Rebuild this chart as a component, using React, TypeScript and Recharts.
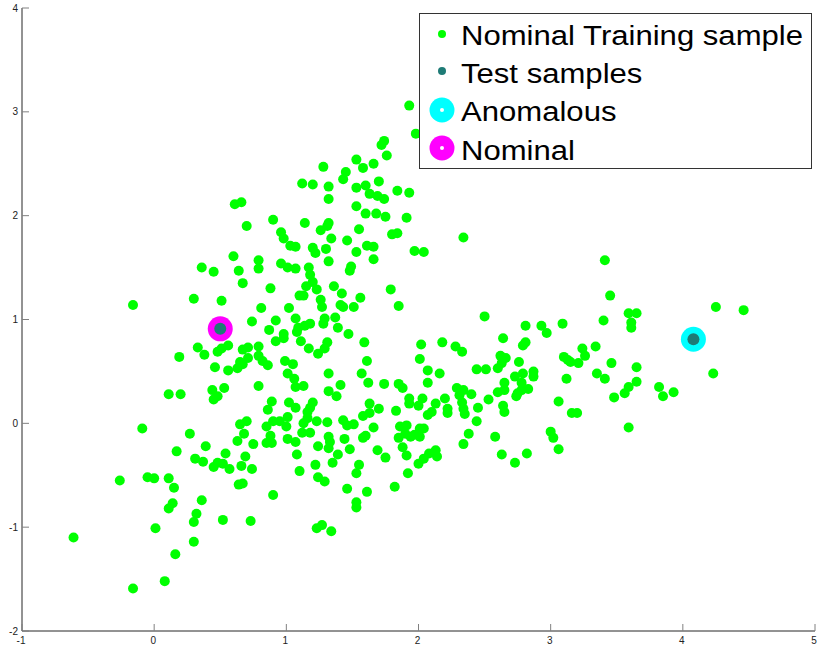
import React from 'react';
import { ScatterChart, Scatter, XAxis, YAxis, Legend } from 'recharts';

const xTicks = [-1, 0, 1, 2, 3, 4, 5];
const yTicks = [-2, -1, 0, 1, 2, 3, 4];
const legendLabels = ['Nominal Training sample', 'Test samples', 'Anomalous', 'Nominal'];

const trainingPoints: [number, number][] = [
  [0.61, 2.11], [0.66, 2.13], [0.70, 1.90], [0.90, 1.96], [0.96, 1.84], [0.98, 1.78], [1.03, 1.71],
  [0.60, 1.61], [0.79, 1.57], [0.79, 1.49], [0.36, 1.50], [0.45, 1.46], [0.64, 1.47], [0.96, 1.54],
  [1.01, 1.50], [1.07, 1.49], [0.67, 1.35], [0.88, 1.30], [0.30, 1.20], [0.51, 1.18], [-0.16, 1.14],
  [0.81, 1.11], [1.02, 1.11], [0.74, 0.98], [0.92, 0.99], [0.87, 0.90], [0.98, 0.86], [0.98, 0.82],
  [0.33, 0.73], [0.48, 0.69], [0.51, 0.72], [0.56, 0.75], [0.67, 0.71], [0.71, 0.73], [0.79, 0.74],
  [0.92, 0.79], [1.93, 3.06], [1.98, 2.79], [1.74, 2.72], [1.72, 2.68], [1.76, 2.58], [1.53, 2.54],
  [1.66, 2.50], [1.58, 2.46], [1.28, 2.47], [1.45, 2.42], [1.43, 2.35], [1.12, 2.31], [1.20, 2.30],
  [1.32, 2.28], [1.53, 2.27], [1.60, 2.29], [1.70, 2.33], [1.63, 2.21], [1.69, 2.19], [1.74, 2.16],
  [1.84, 2.24], [1.93, 2.22], [1.32, 2.16], [1.53, 2.09], [1.60, 2.02], [1.68, 2.02], [1.75, 1.99],
  [1.91, 1.98], [1.14, 1.93], [1.32, 1.93], [1.31, 1.90], [1.26, 1.86], [1.55, 1.87], [1.80, 1.82],
  [1.84, 1.83], [2.34, 1.79], [1.34, 1.78], [1.46, 1.76], [1.07, 1.70], [1.20, 1.69], [1.22, 1.64],
  [1.30, 1.68], [1.61, 1.71], [1.66, 1.70], [1.53, 1.65], [1.97, 1.66], [2.04, 1.65], [1.32, 1.56],
  [1.66, 1.58], [1.17, 1.50], [1.49, 1.51], [1.48, 1.47], [1.18, 1.43], [1.20, 1.36], [1.23, 1.29],
  [1.15, 1.32], [1.13, 1.23], [1.10, 1.23], [1.36, 1.32], [1.42, 1.25], [1.79, 1.29], [1.26, 1.19],
  [1.27, 1.12], [1.56, 1.21], [1.41, 1.14], [1.43, 1.12], [1.51, 1.12], [1.85, 1.13], [1.07, 1.01],
  [1.37, 1.02], [1.29, 1.01], [1.28, 0.96], [1.18, 0.96], [1.14, 0.94], [1.09, 0.92], [1.08, 0.88],
  [1.39, 0.92], [1.47, 0.86], [2.50, 1.03], [2.64, 0.82], [1.11, 0.79], [1.31, 0.78], [1.59, 0.78],
  [2.02, 0.76], [2.18, 0.78], [2.28, 0.74], [1.29, 0.72], [2.33, 0.69], [3.41, 1.57], [3.45, 1.23],
  [3.59, 1.06], [3.65, 1.06], [3.61, 0.97], [3.61, 0.92], [3.40, 0.99], [4.25, 1.12], [4.46, 1.09],
  [4.23, 0.48], [2.81, 0.94], [2.93, 0.94], [2.97, 0.87], [3.09, 0.96], [2.81, 0.78], [2.79, 0.75],
  [3.34, 0.74], [3.24, 0.72], [3.26, 0.65], [3.10, 0.64], [3.13, 0.61], [3.15, 0.59], [3.21, 0.58],
  [2.62, 0.65], [2.66, 0.63], [2.63, 0.58], [2.60, 0.53], [2.76, 0.59], [3.46, 0.58], [3.65, 0.54],
  [2.87, 0.50], [2.87, 0.45], [2.79, 0.48], [2.73, 0.45], [3.35, 0.48], [3.41, 0.43], [3.12, 0.43],
  [2.65, 0.39], [2.65, 0.32], [2.60, 0.30], [2.78, 0.39], [2.78, 0.32], [2.83, 0.33], [2.75, 0.29],
  [2.74, 0.26], [3.65, 0.40], [3.59, 0.35], [3.56, 0.29], [3.82, 0.35], [3.85, 0.26], [3.93, 0.30],
  [3.48, 0.25], [3.06, 0.21], [2.64, 0.17], [2.65, 0.11], [3.16, 0.10], [3.20, 0.10], [3.00, -0.08],
  [3.02, -0.14], [3.59, -0.04], [3.06, -0.25], [2.82, -0.29], [2.73, -0.38], [2.63, -0.30],
  [0.38, 0.66], [0.19, 0.64], [0.71, 0.63], [0.79, 0.65], [0.82, 0.60], [0.86, 0.56], [0.65, 0.59],
  [0.67, 0.57], [0.63, 0.53], [0.56, 0.51], [0.46, 0.54], [0.99, 0.60], [1.01, 0.48], [0.79, 0.36],
  [0.44, 0.32], [0.53, 0.34], [0.48, 0.26], [0.45, 0.23], [0.11, 0.28], [0.20, 0.28], [0.89, 0.21],
  [0.86, 0.13], [1.02, 0.20], [-0.09, -0.05], [0.27, -0.10], [0.65, -0.01], [0.70, 0.02], [0.68, -0.10],
  [0.63, -0.17], [0.75, -0.20], [0.85, -0.03], [0.90, 0.02], [0.95, 0.02], [1.01, 0.06], [1.00, -0.03],
  [0.88, -0.12], [0.85, -0.19], [0.89, -0.19], [1.01, -0.15], [0.39, -0.22], [0.17, -0.27], [0.54, -0.29],
  [0.31, -0.34], [0.37, -0.37], [0.45, -0.42], [0.48, -0.38], [0.52, -0.39], [0.57, -0.44], [0.69, -0.32],
  [0.66, -0.41], [0.74, -0.44], [-0.26, -0.55], [-0.05, -0.52], [0.00, -0.53], [0.11, -0.53], [0.15, -0.62],
  [0.64, -0.59], [0.67, -0.58], [0.90, -0.69], [0.36, -0.74], [0.14, -0.77], [0.11, -0.82], [0.32, -0.87],
  [0.30, -0.95], [0.52, -0.93], [0.73, -0.94], [0.01, -1.01], [-0.61, -1.10], [0.30, -1.14], [0.16, -1.26],
  [0.08, -1.52], [-0.16, -1.59], [1.17, 0.72], [1.24, 0.67], [1.61, 0.60], [2.01, 0.62], [2.07, 0.51],
  [2.16, 0.48], [2.07, 0.39], [2.44, 0.52], [2.51, 0.52], [1.05, 0.57], [1.06, 0.43], [1.07, 0.35],
  [1.13, 0.36], [1.32, 0.48], [1.57, 0.48], [1.62, 0.39], [1.32, 0.31], [1.38, 0.26], [1.41, 0.37],
  [1.74, 0.38], [1.85, 0.38], [1.88, 0.34], [2.29, 0.34], [2.34, 0.32], [2.40, 0.28], [2.31, 0.27],
  [2.33, 0.20], [2.34, 0.14], [2.35, 0.09], [2.53, 0.23], [2.45, 0.15], [2.44, 0.02], [2.38, -0.10],
  [2.34, -0.20], [2.58, -0.13], [2.20, 0.24], [2.22, 0.14], [2.22, 0.10], [2.13, 0.19], [2.10, 0.11],
  [2.07, 0.08], [1.93, 0.24], [1.93, 0.19], [2.00, 0.17], [2.03, 0.24], [1.83, 0.12], [1.63, 0.19],
  [1.63, 0.10], [1.58, 0.07], [1.70, 0.14], [1.66, -0.04], [1.07, 0.15], [1.20, 0.20], [1.18, 0.15],
  [1.16, 0.11], [1.16, 0.05], [1.13, 0.00], [1.23, 0.02], [1.31, 0.01], [1.43, 0.03], [1.46, -0.02],
  [1.51, -0.01], [1.12, -0.09], [1.18, -0.09], [1.07, -0.18], [1.32, -0.13], [1.33, -0.18], [1.32, -0.24],
  [1.44, -0.15], [1.60, -0.12], [1.58, -0.14], [1.24, -0.22], [1.48, -0.25], [1.39, -0.30], [1.35, -0.38],
  [1.08, -0.30], [1.69, -0.26], [1.75, -0.33], [1.86, -0.03], [1.91, -0.02], [1.85, -0.14], [1.90, -0.10],
  [1.94, -0.13], [1.97, -0.11], [2.01, -0.05], [2.04, -0.05], [2.01, -0.13], [1.88, -0.23], [1.91, -0.31],
  [2.00, -0.39], [2.04, -0.34], [2.08, -0.29], [2.13, -0.26], [2.14, -0.32], [1.92, -0.48], [1.82, -0.61],
  [1.22, -0.40], [1.10, -0.46], [1.55, -0.40], [1.53, -0.48], [1.24, -0.52], [1.29, -0.56], [1.46, -0.63],
  [1.61, -0.66], [1.53, -0.76], [1.53, -0.81], [1.23, -1.01], [1.27, -0.98], [1.34, -1.04],
];

const testPoints: [number, number][] = [[0.5, 0.91], [4.08, 0.81]];
const anomalousPoints: [number, number][] = [[4.08, 0.81]];
const nominalPoints: [number, number][] = [[0.5, 0.91]];

const toData = (pts: [number, number][]) => pts.map(([x, y]) => ({ x, y }));

const GREEN = '#00ff00';
const TEAL = '#1e7b76';
const CYAN = '#00ffff';
const MAGENTA = '#ff00ff';
const FONT = '"Liberation Sans", Arial, Helvetica, sans-serif';

const makeDot = (r: number, fill: string) => (props: any) =>
  <circle cx={props.cx} cy={props.cy} r={r} fill={fill} />;

const YTick = (props: any) => {
  const { x, y, payload } = props;
  return (
    <g>
      <line x1={x} y1={y} x2={x + 7} y2={y} stroke="#808080" strokeWidth={1} />
      <text x={x - 4} y={y} textAnchor="end" dominantBaseline="central" fontSize={10} fontFamily={FONT} fill="#222">
        {payload.value}
      </text>
    </g>
  );
};

const XTick = (props: any) => {
  const { x, y, payload } = props;
  return (
    <g>
      <line x1={x} y1={y} x2={x} y2={y - 7} stroke="#808080" strokeWidth={1} />
      <text x={x - 1} y={y + 9} textAnchor="middle" dominantBaseline="central" fontSize={10} fontFamily={FONT} fill="#222">
        {payload.value}
      </text>
    </g>
  );
};

const LegendBox = () => {
  const rows = [
    { cy: 21, base: 32, kind: 'dot', color: GREEN },
    { cy: 58, base: 70, kind: 'dot', color: TEAL },
    { cy: 97, base: 108, kind: 'ring', color: CYAN },
    { cy: 135, base: 147, kind: 'ring', color: MAGENTA },
  ];
  return (
    <svg width={394} height={157} style={{ display: 'block' }}>
      <rect x={0.5} y={0.5} width={392} height={155} fill="#ffffff" stroke="#333333" strokeWidth={1} />
      {rows.map((r, i) => (
        <g key={i}>
          {r.kind === 'dot' ? (
            <circle cx={23} cy={r.cy} r={4} fill={r.color} />
          ) : (
            <g>
              <circle cx={23} cy={r.cy} r={12.5} fill={r.color} />
              <circle cx={23} cy={r.cy} r={2} fill="#ffffff" />
            </g>
          )}
          <text transform={`translate(42 ${r.base}) scale(1.11 1)`} x={0} y={0} fontSize={28} fontFamily={FONT} fill="#000">
            {legendLabels[i]}
          </text>
        </g>
      ))}
    </svg>
  );
};

export default function App() {
  return (
    <div style={{ position: 'absolute', left: 0, top: 0, width: 817, height: 650, background: '#fff' }}>
      <ScatterChart width={817} height={650} margin={{ top: 8, right: 2, bottom: 0, left: 0 }}>
        <XAxis
          type="number"
          dataKey="x"
          domain={[-1, 5]}
          ticks={xTicks}
          interval={0}
          height={19}
          tickSize={0}
          tickMargin={0}
          tickLine={false}
          axisLine={{ stroke: '#262626', strokeWidth: 1 }}
          tick={<XTick />}
          allowDataOverflow
        />
        <YAxis
          type="number"
          dataKey="y"
          domain={[-2, 4]}
          ticks={yTicks}
          interval={0}
          width={22}
          tickSize={0}
          tickMargin={0}
          tickLine={false}
          axisLine={{ stroke: '#262626', strokeWidth: 1 }}
          tick={<YTick />}
          allowDataOverflow
        />
        <Legend
          layout="horizontal"
          verticalAlign="middle"
          align="center"
          wrapperStyle={{ position: 'absolute', left: 419, top: 13, width: 394, height: 157 }}
          content={() => <LegendBox />}
        />
        <Scatter name={legendLabels[0]} data={toData(trainingPoints)} shape={makeDot(5, GREEN)} isAnimationActive={false} />
        <Scatter name={legendLabels[2]} data={toData(anomalousPoints)} shape={makeDot(12.5, CYAN)} isAnimationActive={false} />
        <Scatter name={legendLabels[3]} data={toData(nominalPoints)} shape={makeDot(12.5, MAGENTA)} isAnimationActive={false} />
        <Scatter name={legendLabels[1]} data={toData(testPoints)} shape={makeDot(6, TEAL)} isAnimationActive={false} />
      </ScatterChart>
    </div>
  );
}
